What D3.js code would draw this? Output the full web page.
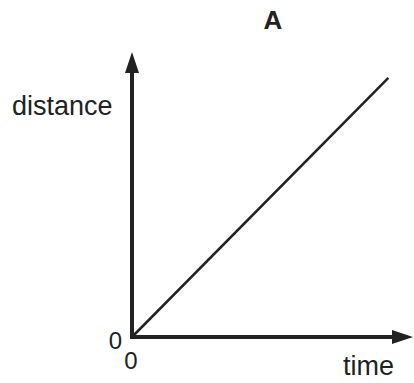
<!DOCTYPE html>
<html>
<head>
<meta charset="utf-8">
<script src="https://cdn.jsdelivr.net/npm/d3@7"></script>
<style>
  body { margin: 0; background: #fff; }
  text { font-family: "Liberation Sans", Arial, sans-serif; fill: #222; }
</style>
</head>
<body>
<div id="chart-area"></div>
<script>
// data
var time = [0, 10];
var distance = [0, 10];
var axisMax = 11;
var title = "A";
var xLabel = "time";
var yLabel = "distance";
var originLabel = "0";

var W = 414, H = 383;
var ink = "#222";

var svg = d3.select("#chart-area").append("svg")
  .attr("width", W)
  .attr("height", H);

// scales
var x = d3.scaleLinear().domain([0, axisMax]).range([132, 414]);
var y = d3.scaleLinear().domain([0, axisMax]).range([337, 52]);

// title
svg.append("text")
  .attr("x", 273)
  .attr("y", 29)
  .attr("text-anchor", "middle")
  .attr("font-size", "26px")
  .attr("font-weight", "bold")
  .text(title);

// axes (drawn as plain lines with arrows, no ticks)
var aw = 4;
svg.append("line")
  .attr("x1", x(0)).attr("y1", y(0) + aw / 2)
  .attr("x2", x(0)).attr("y2", y(axisMax) + 18)
  .attr("stroke", ink).attr("stroke-width", aw);

svg.append("line")
  .attr("x1", x(0) - aw / 2).attr("y1", y(0))
  .attr("x2", x(axisMax) - 18).attr("y2", y(0))
  .attr("stroke", ink).attr("stroke-width", aw);

// arrow heads
svg.append("path")
  .attr("d", "M" + x(0) + "," + y(axisMax) +
    "L" + (x(0) - 7) + "," + (y(axisMax) + 21) +
    "L" + (x(0) + 7) + "," + (y(axisMax) + 21) + "Z")
  .attr("fill", ink);

svg.append("path")
  .attr("d", "M" + (x(axisMax) - 1) + "," + y(0) +
    "L" + (x(axisMax) - 22) + "," + (y(0) - 7) +
    "L" + (x(axisMax) - 22) + "," + (y(0) + 7) + "Z")
  .attr("fill", ink);

// data line
var line = d3.line()
  .x(function(d) { return x(d[0]); })
  .y(function(d) { return y(d[1]); });

svg.append("path")
  .datum(d3.zip(time, distance))
  .attr("d", line)
  .attr("fill", "none")
  .attr("stroke", ink)
  .attr("stroke-width", 2.5);

// labels
svg.append("text")
  .attr("x", 12)
  .attr("y", 115)
  .attr("font-size", "27px")
  .text(yLabel);

svg.append("text")
  .attr("x", 394)
  .attr("y", 375)
  .attr("text-anchor", "end")
  .attr("font-size", "27px")
  .text(xLabel);

svg.append("text")
  .attr("x", 122)
  .attr("y", 349)
  .attr("text-anchor", "end")
  .attr("font-size", "24px")
  .text(originLabel);

svg.append("text")
  .attr("x", 131)
  .attr("y", 369)
  .attr("text-anchor", "middle")
  .attr("font-size", "24px")
  .text(originLabel);
</script>
</body>
</html>
